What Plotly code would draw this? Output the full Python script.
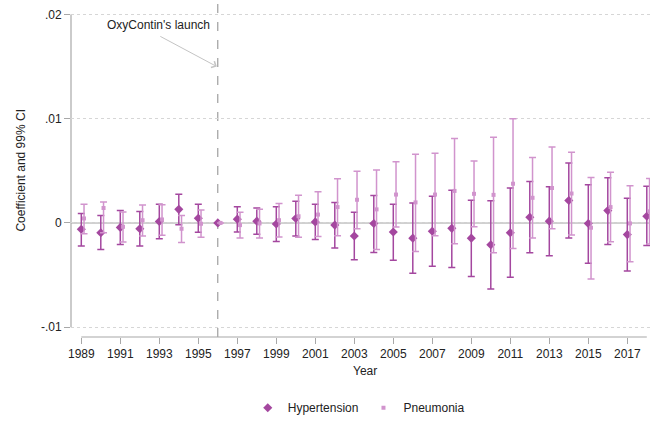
import plotly.graph_objects as go

# Event-study coefficients (relative to 1996) with 99% confidence bounds
years = list(range(1989, 2019))

hyp_coef = [-0.00061, -0.00094, -0.00043, -0.00056, 0.00014, 0.00130, 0.00045, 0.0,
            0.00036, 0.00017, -0.00011, 0.00043, 0.00010, -0.00021, -0.00125,
            -0.00005, -0.00087, -0.00146, -0.00080, -0.00052, -0.00146, -0.00210,
            -0.00094, 0.00055, 0.00017, 0.00215, -0.00005, 0.00118, -0.00112, 0.00064]
hyp_hi = [0.00090, 0.00071, 0.00118, 0.00109, 0.00180, 0.00275, 0.00180, 0.0,
          0.00156, 0.00143, 0.00156, 0.00209, 0.00178, 0.00197, 0.00102,
          0.00263, 0.00178, 0.00190, 0.00256, 0.00313, 0.00218, 0.00213,
          0.00335, 0.00398, 0.00348, 0.00575, 0.00367, 0.00433, 0.00237, 0.00351]
hyp_lo = [-0.00222, -0.00254, -0.00207, -0.00222, -0.00153, -0.00018, -0.00090, 0.0,
          -0.00087, -0.00109, -0.00179, -0.00125, -0.00160, -0.00241, -0.00354,
          -0.00283, -0.00358, -0.00484, -0.00415, -0.00427, -0.00515, -0.00635,
          -0.00522, -0.00285, -0.00314, -0.00144, -0.00386, -0.00207, -0.00462, -0.00216]

pne_coef = [0.00043, 0.00143, -0.00037, 0.00026, 0.00033, -0.00056, -0.00008, 0.0,
            -0.00021, -0.00005, 0.00026, 0.00064, 0.00080, 0.00152, 0.00222,
            0.00130, 0.00272, 0.00197, 0.00272, 0.00307, 0.00279, 0.00269,
            0.00376, 0.00241, 0.00335, 0.00282, -0.00046, 0.00152, -0.00005, 0.00111]
pne_hi = [0.00180, 0.00200, 0.00105, 0.00171, 0.00175, 0.00071, 0.00124, 0.0,
          0.00102, 0.00130, 0.00187, 0.00266, 0.00298, 0.00423, 0.00496,
          0.00508, 0.00587, 0.00660, 0.00669, 0.00811, 0.00593, 0.00823,
          0.01000, 0.00628, 0.00729, 0.00679, 0.00436, 0.00487, 0.00357, 0.00426]
pne_lo = [-0.00103, -0.00094, -0.00184, -0.00125, -0.00118, -0.00188, -0.00137, 0.0,
          -0.00144, -0.00144, -0.00134, -0.00137, -0.00131, -0.00122, -0.00056,
          -0.00254, -0.00040, -0.00273, -0.00122, -0.00200, -0.00037, -0.00285,
          -0.00245, -0.00144, -0.00056, -0.00115, -0.00538, -0.00181, -0.00373, -0.00203]

x_ticks = list(range(1989, 2018, 2))
y_ticks = [-0.01, 0.0, 0.01, 0.02]
y_tick_text = ["-.01", "0", ".01", ".02"]

HYP_COLOR = "#a4479f"
PNE_COLOR = "#d194cd"
FONT = "Liberation Sans, Arial, sans-serif"
pne_shift = 0.14

fig = go.Figure()

fig.add_trace(go.Scatter(
    x=years, y=hyp_coef, mode="markers", name="Hypertension",
    marker=dict(symbol="diamond", size=7, color=HYP_COLOR),
    error_y=dict(type="data", symmetric=False,
                 array=[h - c for h, c in zip(hyp_hi, hyp_coef)],
                 arrayminus=[c - l for c, l in zip(hyp_coef, hyp_lo)],
                 color=HYP_COLOR, thickness=1.5, width=3.5),
))
fig.add_trace(go.Scatter(
    x=[y + pne_shift for y in years], y=pne_coef, mode="markers", name="Pneumonia",
    marker=dict(symbol="square", size=4, color=PNE_COLOR),
    error_y=dict(type="data", symmetric=False,
                 array=[h - c for h, c in zip(pne_hi, pne_coef)],
                 arrayminus=[c - l for c, l in zip(pne_coef, pne_lo)],
                 color=PNE_COLOR, thickness=1.5, width=3.5),
))

shapes = [
    # zero reference line
    dict(type="line", xref="paper", yref="y", x0=0, x1=1, y0=0, y1=0,
         line=dict(color="#d0d0d0", width=2), layer="below"),
    # launch year marker
    dict(type="line", xref="x", yref="paper", x0=1996, x1=1996, y0=0, y1=1,
         line=dict(color="#8a8a8a", width=1, dash="dash"), layer="below"),
    # axis lines spanning the tick range only
    dict(type="line", xref="x", yref="paper", x0=1989, x1=2018, y0=0, y1=0,
         line=dict(color="#a8a8a8", width=1.2), layer="below"),
    dict(type="line", xref="paper", yref="y", x0=0, x1=0, y0=-0.01, y1=0.02,
         line=dict(color="#a8a8a8", width=1.2), layer="below"),
]

annotations = [
    dict(x=1992.96, y=0.01898, xref="x", yref="y", text="OxyContin's launch",
         showarrow=False, font=dict(family=FONT, size=12, color="#222222")),
    dict(x=1995.95, y=0.0150, xref="x", yref="y", text="", showarrow=True,
         ax=-58, ay=-31, arrowhead=4, arrowsize=1.4, arrowwidth=1,
         arrowcolor="#c4c4c4"),
    dict(x=0.508, y=-0.103, xref="paper", yref="paper", text="Year",
         showarrow=False, font=dict(family=FONT, size=12, color="#222222"),
         xanchor="center", yanchor="middle"),
    dict(x=-0.088, y=0.4985, xref="paper", yref="paper",
         text="Coefficient and 99% CI", textangle=-90, showarrow=False,
         font=dict(family=FONT, size=12, color="#222222"),
         xanchor="center", yanchor="middle"),
]

fig.update_layout(
    width=651, height=423,
    margin=dict(l=71, r=1, t=3, b=81),
    plot_bgcolor="white", paper_bgcolor="white",
    font=dict(family=FONT, size=12, color="#222222"),
    shapes=shapes, annotations=annotations,
    showlegend=True,
    legend=dict(orientation="h", x=0.497, xanchor="center", y=-0.212,
                yanchor="middle", font=dict(family=FONT, size=12),
                itemwidth=30, bgcolor="rgba(0,0,0,0)"),
    xaxis=dict(range=[1988.472, 2018.164], tickmode="array", tickvals=x_ticks,
               ticktext=[str(t) for t in x_ticks], showgrid=False, zeroline=False,
               showline=False, ticks="outside", ticklen=6, tickcolor="#a8a8a8",
               tickwidth=1, tickfont=dict(family=FONT, size=12, color="#222222")),
    yaxis=dict(range=[-0.010945, 0.0211], tickmode="array", tickvals=y_ticks,
               ticktext=y_tick_text, showgrid=True, gridcolor="#d6d6d6",
               griddash="dot", gridwidth=1, zeroline=False, showline=False,
               ticks="outside", ticklen=6, tickcolor="#a8a8a8", tickwidth=1,
               tickfont=dict(family=FONT, size=12, color="#222222")),
)

fig.write_html("out.html")
